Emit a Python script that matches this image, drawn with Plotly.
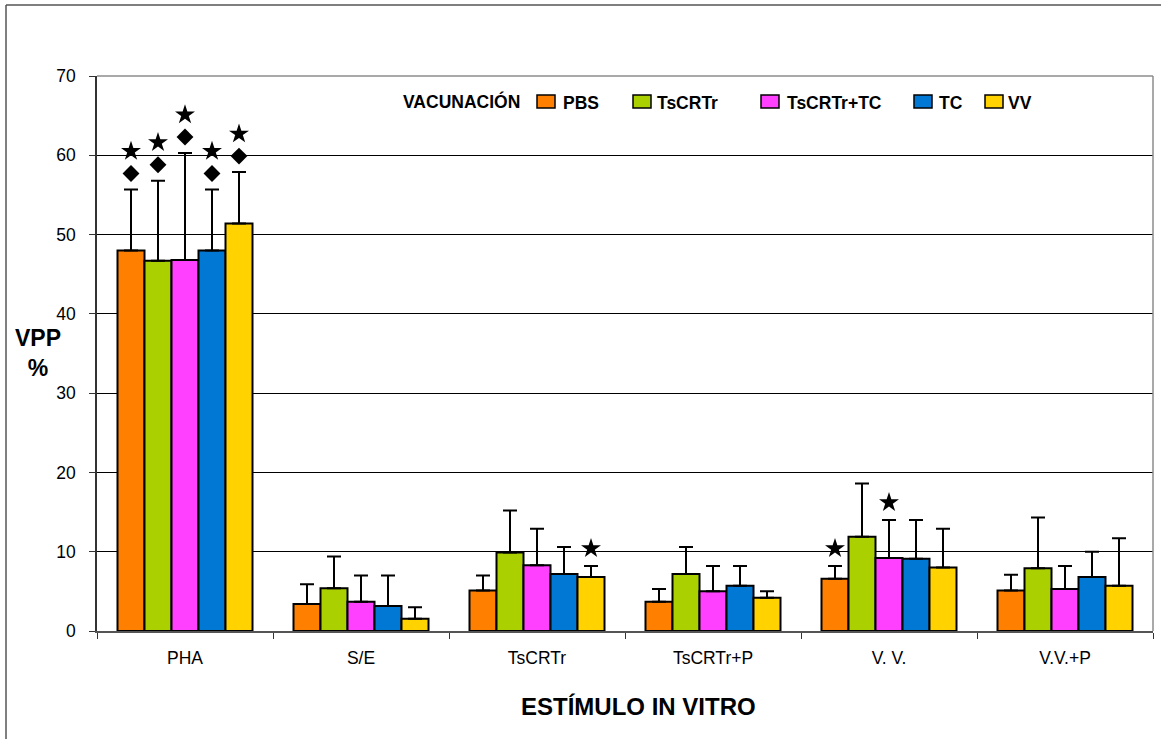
import plotly.graph_objects as go

# Stimuli (x categories) and vaccination groups (series)
stimuli = ["PHA", "S/E", "TsCRTr", "TsCRTr+P", "V. V.", "V.V.+P"]
groups = ["PBS", "TsCRTr", "TsCRTr+TC", "TC", "VV"]
colors = ["#FF8000", "#AAD000", "#FF40FF", "#0078D4", "#FFD200"]

# Mean VPP % per stimulus, one list per vaccination group
pbs_mean = [48.0, 3.4, 5.1, 3.7, 6.6, 5.1]
tscrtr_mean = [46.7, 5.4, 9.9, 7.2, 11.9, 7.9]
tscrtr_tc_mean = [46.8, 3.7, 8.3, 5.0, 9.2, 5.3]
tc_mean = [48.0, 3.15, 7.2, 5.7, 9.1, 6.8]
vv_mean = [51.4, 1.55, 6.8, 4.2, 8.0, 5.7]

# Standard deviations (upper error bars)
pbs_sd = [7.7, 2.5, 1.9, 1.6, 1.6, 2.0]
tscrtr_sd = [10.1, 4.0, 5.3, 3.4, 6.7, 6.4]
tscrtr_tc_sd = [13.5, 3.3, 4.6, 3.2, 4.8, 2.9]
tc_sd = [7.7, 3.85, 3.4, 2.5, 4.9, 3.2]
vv_sd = [6.5, 1.45, 1.4, 0.8, 4.9, 6.0]

means = [pbs_mean, tscrtr_mean, tscrtr_tc_mean, tc_mean, vv_mean]
sds = [pbs_sd, tscrtr_sd, tscrtr_tc_sd, tc_sd, vv_sd]

# Significance marks: (stimulus index, group index)
star_marks = [(0, 0), (0, 1), (0, 2), (0, 3), (0, 4), (2, 4), (4, 0), (4, 2)]
diamond_marks = [(0, 0), (0, 1), (0, 2), (0, 3), (0, 4)]

BAR_W = 27 / 176  # bar width in category units
n_groups = len(groups)

fig = go.Figure()

for gi, (name, col) in enumerate(zip(groups, colors)):
    fig.add_trace(go.Bar(
        x=list(range(len(stimuli))),
        y=means[gi],
        name=name,
        marker=dict(color=col, line=dict(color="black", width=2)),
        error_y=dict(type="data", symmetric=False, array=sds[gi],
                     arrayminus=[0] * len(stimuli), color="black",
                     thickness=2, width=7),
        showlegend=False,
    ))


def bar_x(si, gi):
    return si + (gi - (n_groups - 1) / 2) * BAR_W


def bar_top(si, gi):
    return means[gi][si] + sds[gi][si]


dia_x = [bar_x(s, g) for s, g in diamond_marks]
dia_y = [bar_top(s, g) + 2.0 for s, g in diamond_marks]
fig.add_trace(go.Scatter(x=dia_x, y=dia_y, mode="markers",
                         marker=dict(symbol="diamond", size=13, color="black"),
                         showlegend=False, hoverinfo="skip"))

star_x, star_y = [], []
for s, g in star_marks:
    star_x.append(bar_x(s, g))
    star_y.append(bar_top(s, g) + (4.8 if (s, g) in diamond_marks else 2.2))
fig.add_trace(go.Scatter(x=star_x, y=star_y, mode="markers",
                         marker=dict(symbol="star", size=15, color="black"),
                         showlegend=False, hoverinfo="skip"))

# Layout geometry (pixels)
W, H = 1161, 739
L, R, T, B = 97, 8, 76, 108
PW, PH = W - L - R, H - T - B


def px(x):
    return (x - L) / PW


def py(y):
    return (H - B - y) / PH


FONT = "Liberation Sans, Arial, sans-serif"

fig.update_layout(
    width=W, height=H,
    margin=dict(l=L, r=R, t=T, b=B),
    paper_bgcolor="white", plot_bgcolor="white",
    barmode="group", bargap=1 - n_groups * BAR_W, bargroupgap=0,
    font=dict(family=FONT, color="black", size=17),
    xaxis=dict(
        range=[-0.5, len(stimuli) - 0.5],
        tickmode="array", tickvals=list(range(len(stimuli))), ticktext=stimuli,
        ticks="", showgrid=False, zeroline=False,
        showline=True, linecolor="#555555", linewidth=1.5,
        tickfont=dict(size=17.5), ticklabelstandoff=10,
        minor=dict(tick0=-0.5, dtick=1, ticks="outside", ticklen=6,
                   tickcolor="#333333", tickwidth=1.2, showgrid=False),
    ),
    yaxis=dict(
        range=[0, 70], tickmode="linear", tick0=0, dtick=10,
        ticks="outside", ticklen=6, tickcolor="#333333", tickwidth=1.2,
        showgrid=True, gridcolor="black", gridwidth=1,
        zeroline=False, showline=True, linecolor="#333333", linewidth=1.5,
        tickfont=dict(size=17.5), ticklabelstandoff=10,
    ),
)

shapes = [
    # plot area frame (top and right)
    dict(type="line", xref="paper", yref="paper", x0=0, x1=1, y0=1, y1=1,
         line=dict(color="#8c8c8c", width=1.5)),
    dict(type="line", xref="paper", yref="paper", x0=1, x1=1, y0=0, y1=1,
         line=dict(color="#8c8c8c", width=1.5)),
    # outer chart frame
    dict(type="line", xref="paper", yref="paper", x0=px(6), x1=px(6),
         y0=py(H + 5), y1=py(5), line=dict(color="#555555", width=1.5)),
    dict(type="line", xref="paper", yref="paper", x0=px(6), x1=px(W + 5),
         y0=py(5), y1=py(5), line=dict(color="#555555", width=1.5)),
]

annotations = [
    dict(text="<b>VPP</b><br><b>%</b>", xref="paper", yref="paper",
         x=px(38), y=py(353), xanchor="center", yanchor="middle",
         showarrow=False, font=dict(size=23)),
    dict(text="<b>ESTÍMULO IN VITRO</b>", xref="paper", yref="paper",
         x=px(638), y=py(706), xanchor="center", yanchor="middle",
         showarrow=False, font=dict(size=24)),
    dict(text="<b>VACUNACIÓN</b>", xref="paper", yref="paper",
         x=px(401), y=py(101), xanchor="left", yanchor="middle",
         showarrow=False, font=dict(size=17.5)),
]

swatch_left = [537, 633, 761, 914, 985]
label_left = [561, 655, 785, 937, 1006]
for name, col, sx, lx in zip(groups, colors, swatch_left, label_left):
    shapes.append(dict(type="rect", xref="paper", yref="paper",
                       x0=px(sx), x1=px(sx + 18), y0=py(108), y1=py(95),
                       fillcolor=col, line=dict(color="black", width=1.5)))
    annotations.append(dict(text=f"<b>{name}</b>", xref="paper", yref="paper",
                            x=px(lx), y=py(103), xanchor="left",
                            yanchor="middle", showarrow=False,
                            font=dict(size=17.5)))

fig.update_layout(shapes=shapes, annotations=annotations)

fig.write_html("out.html")
